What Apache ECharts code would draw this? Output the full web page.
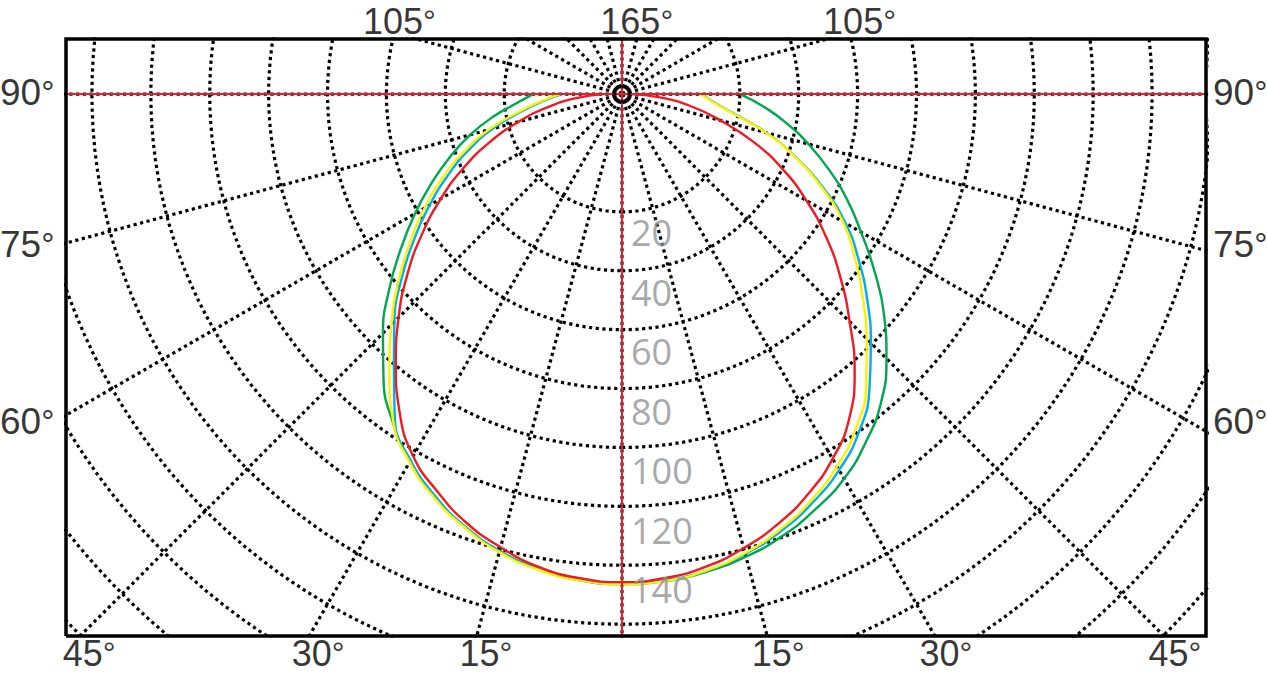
<!DOCTYPE html>
<html><head><meta charset="utf-8">
<script src="https://cdn.jsdelivr.net/npm/echarts@6/dist/echarts.min.js"></script>
<style>html,body{margin:0;padding:0;background:#fff}#c{width:1267px;height:674px}</style>
</head><body><div id="c"></div>
<script>
// ---- data (intensity units; one dotted ring every 20 units) ----
const angleSteps = [0,5,10,15,20,25,30,35,40,45,50,55,60,65,70,75,80,85,90];
const greenLeft   = [166.4,165.7,163.7,160.6,156.2,150.8,144.0,135.8,126.0,114.8,103.2,91.7,81.2,71.3,62.1,53.3,44.5,36.0,30.2];
const greenRight  = [166.4,166.0,164.7,162.6,159.6,155.5,150.8,144.3,136.8,127.0,116.1,104.6,93.7,84.2,74.7,65.5,56.7,48.2,40.1];
const blueLeft    = [166.0,165.4,163.7,160.6,156.2,150.4,143.6,134.5,120.5,109.3,97.8,86.2,75.4,65.2,55.3,45.5,35.0,26.8,20.4];
const blueRight   = [166.0,165.7,164.3,161.6,157.9,153.1,147.4,140.2,130.7,119.5,108.7,98.1,87.6,75.4,62.8,50.9,38.7,31.2,27.2];
const yellowLeft  = [166.4,165.7,164.0,161.0,156.5,151.1,144.3,135.5,122.9,110.7,99.2,87.9,77.4,67.2,57.0,46.9,36.0,27.5,21.1];
const yellowRight = [166.4,166.0,164.3,161.3,157.2,152.1,146.0,138.5,129.0,117.5,106.6,96.4,86.6,74.7,62.5,50.6,38.4,30.9,26.8];
const redLeft     = [165.7,165.0,163.0,159.3,154.8,148.7,141.9,131.7,119.5,107.3,95.1,82.9,71.0,59.4,47.9,36.3,25.8,15.6,6.5];
const redRight    = [165.7,165.0,163.0,159.6,155.2,149.7,143.0,134.5,122.9,109.3,96.8,84.6,72.3,60.1,47.5,34.6,23.8,12.9,2.7];

const ringValues = [40,60,80,100,120,140,160,180,200,220,240,260];
const ringLabels = ['20','40','60','80','100','120','140'];
const rayAngles = [0,15,30,45,60,75,90,105,120,135,150,165,180,195,210,225,240,255,270,285,300,315,330,345];
const sideLabels = ['90','75','60'];
const sideAngles = [90,75,60];
const bottomLabels = ['15','30','45'];
const bottomAngles = [15,30,45];
const topLabels = ['105','165','105'];
const topAngles = [-105,165,105];

// axis extents (intensity units)
const X_MIN = -188.8, X_MAX = 198.3, Y_MIN = -184.0, Y_MAX = 18.7;

const rad = d => d * Math.PI / 180;
const polar = (r, a) => [r * Math.sin(rad(a)), -r * Math.cos(rad(a))];

function curve(left, right) {
  const pts = [];
  for (let i = angleSteps.length - 1; i >= 0; i--) pts.push(polar(left[i], -angleSteps[i]));
  for (let i = 1; i < angleSteps.length; i++) pts.push(polar(right[i], angleSteps[i]));
  return pts;
}
const dotted = {color:'#000', width:3.2, type:[3.2,3.5], cap:'butt'};
const series = [];
ringValues.forEach(v => {
  const d = [];
  for (let a = 0; a <= 360; a += 2) d.push(polar(v, a));
  series.push({type:'line', data:d, symbol:'none', silent:true, z:1, lineStyle:dotted, animation:false});
});
rayAngles.forEach(a => {
  series.push({type:'line', data:[[0,0], polar(320, a)], symbol:'none', silent:true, z:1, lineStyle:dotted, animation:false});
});
const curves = [
  ['#00A651', greenLeft, greenRight],
  ['#00AEEF', blueLeft, blueRight],
  ['#FFF200', yellowLeft, yellowRight],
  ['#ED1C24', redLeft, redRight]
];
curves.forEach(([c, l, r]) => {
  series.push({type:'line', data:curve(l, r), symbol:'none', smooth:0.5, silent:true, z:3,
    lineStyle:{color:c, width:2.4}, animation:false});
});
// red reference lines
series.push({type:'line', data:[[X_MIN,0],[X_MAX,0]], symbol:'none', z:4, silent:true, lineStyle:{color:'#ED1C24', width:2}, animation:false});
series.push({type:'line', data:[[0,Y_MIN],[0,Y_MAX]], symbol:'none', z:4, silent:true, lineStyle:{color:'#ED1C24', width:2}, animation:false});
// frame
series.push({type:'line', data:[[X_MIN,Y_MIN],[X_MIN,Y_MAX],[X_MAX,Y_MAX],[X_MAX,Y_MIN],[X_MIN,Y_MIN]], symbol:'none', clip:false, z:5, silent:true,
  lineStyle:{color:'#000', width:3.5, join:'miter'}, animation:false});
// centre marker
series.push({type:'scatter', data:[[0,0]], symbol:'circle', symbolSize:15, z:6, silent:true,
  itemStyle:{color:'rgba(0,0,0,0)', borderColor:'#000', borderWidth:3.5}, animation:false});

const ANG_FONT = 'Liberation Sans';
const richFor = size => ({
  d:{fontFamily:ANG_FONT, fontSize:size, lineHeight:28, color:'#000'},
  s:{fontFamily:ANG_FONT, fontSize:Math.round(size * 0.88), lineHeight:28, color:'#000'}
});
const textPoint = (pos, text, align, offset, color, isDeg, size) => ({
  value: pos, symbolSize: 1,
  label: {show:true, formatter: isDeg ? '{d|' + text + '}{s|°}' : text, rich: isDeg ? richFor(size) : undefined,
    color: color, fontFamily: isDeg ? ANG_FONT : 'Open Sans', fontSize:size, lineHeight:30,
    position:'inside', align:align, verticalAlign:'middle', offset:offset}
});
const labelData = [];
ringLabels.forEach((t, i) => labelData.push(textPoint([0, -ringValues[i]], t, 'left', [9, 21 + i * 0.55], '#8f9194', false, 36)));
const SIDE = 193.5;
sideLabels.forEach((t, i) => {
  const y = -SIDE / Math.tan(rad(sideAngles[i]));
  labelData.push(textPoint([X_MIN, y], t, 'left', [-66, -2], '#000', true, 37));
  labelData.push(textPoint([X_MAX, y], t, 'left', [7, -2], '#000', true, 37));
});
bottomLabels.forEach((t, i) => {
  const x = -Y_MIN * Math.tan(rad(bottomAngles[i]));
  labelData.push(textPoint([-x, Y_MIN], t, 'center', [9, 17], '#000', true, 36));
  labelData.push(textPoint([x, Y_MIN], t, 'center', [11, 17], '#000', true, 36));
});
const topShift = [-17, 0, 32];
topLabels.forEach((t, i) => {
  const a = topAngles[i];
  const x = Y_MAX * Math.tan(rad(180 - Math.abs(a))) * Math.sign(a);
  labelData.push(textPoint([x, Y_MAX], t, 'center', [topShift[i], -18], '#000', true, 36));
});
series.push({type:'scatter', data:labelData, clip:false, z:7, silent:true, symbol:'circle',
  itemStyle:{color:'rgba(0,0,0,0)'}, animation:false});

const chart = echarts.init(document.getElementById('c'), null, {renderer:'svg'});
chart.setOption({
  backgroundColor:'#fff',
  animation:false,
  grid:{left:66, top:39, width:1140, height:597, show:false},
  xAxis:{type:'value', min:X_MIN, max:X_MAX, show:false},
  yAxis:{type:'value', min:Y_MIN, max:Y_MAX, show:false},
  series:series
});
</script></body></html>
